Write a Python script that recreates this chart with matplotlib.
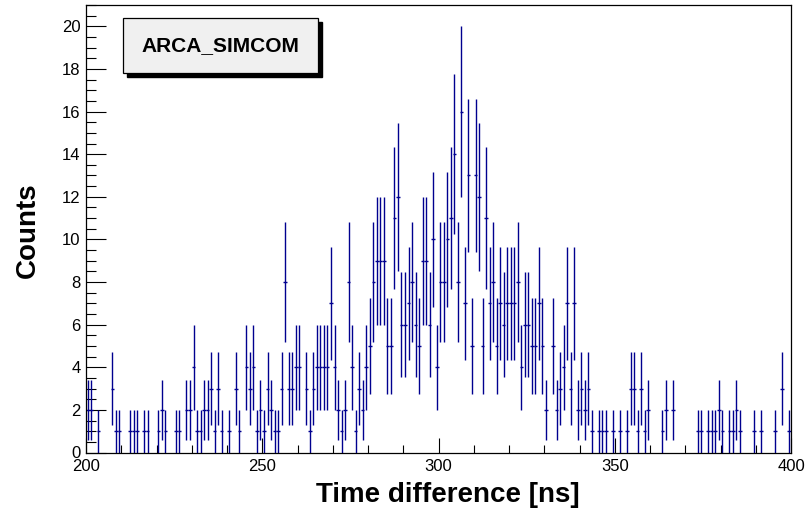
import numpy as np
import matplotlib
matplotlib.use('Agg')
import matplotlib.pyplot as plt
from matplotlib.patches import Rectangle
from matplotlib.ticker import MultipleLocator

plt.rcParams['font.family'] = ['Liberation Sans', 'DejaVu Sans']

# Histogramme : 200 bins de 1 ns entre 200 et 400 ns
bin_low = 200.0
bin_width = 1.0
counts = [
    2, 2, 0, 1, 0, 0, 0, 3, 1, 1, 0, 0, 1, 1, 1, 0, 1, 1, 0, 0,      # 200-219
    1, 2, 1, 0, 0, 1, 1, 0, 2, 2, 4, 1, 1, 2, 2, 3, 1, 3, 1, 0,      # 220-239
    1, 0, 3, 1, 0, 4, 3, 4, 1, 2, 1, 3, 2, 1, 1, 3, 8, 3, 3, 4,      # 240-259
    4, 0, 3, 1, 3, 4, 4, 4, 4, 7, 4, 2, 1, 2, 8, 4, 1, 3, 2, 4,      # 260-279
    5, 8, 9, 9, 9, 5, 5, 11, 12, 6, 6, 7, 8, 6, 5, 9, 9, 6, 10, 4,   # 280-299
    8, 8, 10, 11, 14, 8, 16, 7, 13, 5, 13, 12, 5, 11, 7, 8, 5, 7, 6, 7,  # 300-319
    7, 7, 8, 4, 6, 6, 5, 5, 7, 5, 2, 0, 5, 2, 3, 4, 7, 3, 7, 2,      # 320-339
    3, 2, 3, 1, 0, 1, 1, 1, 0, 1, 0, 1, 0, 1, 3, 3, 1, 3, 1, 2,      # 340-359
    0, 0, 0, 1, 2, 0, 2, 0, 0, 0, 0, 0, 0, 1, 1, 0, 1, 1, 1, 2,      # 360-379
    1, 0, 1, 1, 2, 1, 0, 0, 0, 1, 0, 1, 0, 0, 0, 1, 0, 3, 0, 1,      # 380-399
]
title_text = "ARCA_SIMCOM"
x_title = "Time difference [ns]"
y_title = "Counts"

W, H = 808, 513
fig = plt.figure(figsize=(W / 100, H / 100), dpi=100)
fig.patch.set_facecolor('white')

# cadre du pad (pixels -> fraction)
left, right, top, bottom = 86, 791, 5, 452.5
ax = fig.add_axes([left / W, 1 - bottom / H, (right - left) / W, (bottom - top) / H])

c = np.array(counts, dtype=float)
centers = bin_low + bin_width * (np.arange(len(c)) + 0.5)
mask = c > 0  # ROOT ne dessine pas les bins vides
ax.errorbar(centers[mask], c[mask], xerr=bin_width / 2, yerr=np.sqrt(c[mask]),
            fmt='none', ecolor='#00008f', elinewidth=1.0, capsize=0)

ax.set_xlim(200, 400)
ax.set_ylim(0, 21)

ax.xaxis.set_major_locator(MultipleLocator(50))
ax.xaxis.set_minor_locator(MultipleLocator(10))
ax.yaxis.set_major_locator(MultipleLocator(2))
ax.yaxis.set_minor_locator(MultipleLocator(0.5))

ax.tick_params(axis='both', which='both', direction='in', top=False, right=False,
               colors='black', width=0.8, labelsize=12)
ax.tick_params(axis='y', which='major', length=14.5, pad=4)
ax.tick_params(axis='y', which='minor', length=7.5)
ax.tick_params(axis='x', which='major', length=11, pad=5)
ax.tick_params(axis='x', which='minor', length=5.5)
for s in ax.spines.values():
    s.set_linewidth(0.9)
    s.set_color('black')

# titres des axes
fig.text(448 / W, 1 - 495 / H, x_title, ha='center', va='center',
         fontsize=20, fontweight='bold')
fig.text(28 / W, 1 - 230 / H, y_title, ha='center', va='center',
         rotation=90, fontsize=20, fontweight='bold')

# boite de titre avec ombre
bx0, by0, bx1, by1 = 123, 18, 318, 73
sh = 4
fig.patches.append(Rectangle(((bx0 + sh) / W, 1 - (by1 + sh) / H), (bx1 - bx0) / W, (by1 - by0) / H,
                             transform=fig.transFigure, facecolor='black', edgecolor='black', zorder=5))
fig.patches.append(Rectangle((bx0 / W, 1 - by1 / H), (bx1 - bx0) / W, (by1 - by0) / H,
                             transform=fig.transFigure, facecolor='#f0f0f0', edgecolor='black',
                             linewidth=0.9, zorder=6))
fig.text((bx0 + bx1) / 2 / W, 1 - (by0 + by1) / 2 / H, title_text, ha='center', va='center',
         fontsize=15, fontweight='bold', zorder=7)

fig.savefig('out.png', dpi=100)
